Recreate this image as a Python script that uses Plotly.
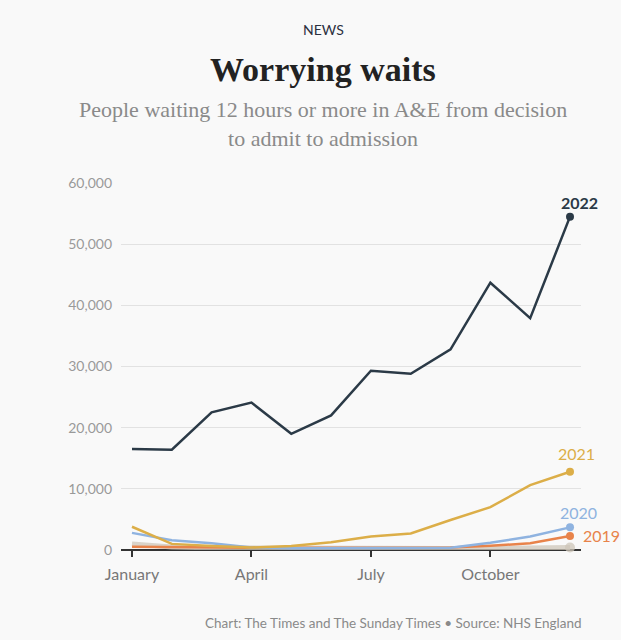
import plotly.graph_objects as go

# months (index positions on the x axis)
months = ["January", "February", "March", "April", "May", "June",
          "July", "August", "September", "October", "November", "December"]
tick_months = ["January", "April", "July", "October"]

# people waiting 12+ hours, decision to admit to admission
y2018 = [1000, 500, 350, 300, 250, 250, 250, 250, 250, 250, 300, 400]
y2019 = [550, 450, 400, 350, 350, 350, 350, 350, 400, 700, 1100, 2300]
y2020 = [2800, 1600, 1100, 400, 300, 300, 300, 300, 350, 1200, 2200, 3700]
y2021 = [3800, 1000, 650, 400, 650, 1250, 2200, 2700, 4900, 7000, 10600, 12800]
y2022 = [16500, 16400, 22500, 24100, 19000, 22000, 29300, 28800, 32800, 43700, 37900, 54500]

series = [
    ("2018", y2018, "rgba(205,198,184,0.75)", 5),
    ("2019", y2019, "#e8834a", 2.5),
    ("2020", y2020, "#8fb3e0", 2.5),
    ("2021", y2021, "#dcae48", 2.5),
    ("2022", y2022, "#2b3a47", 2.5),
]

x = list(range(len(months)))

fig = go.Figure()
for name, vals, color, width in series:
    fig.add_trace(go.Scatter(
        x=x, y=vals, mode="lines", name=name,
        line=dict(color=color, width=width),
        hoverinfo="skip",
    ))
    # end dot
    fig.add_trace(go.Scatter(
        x=[x[-1]], y=[vals[-1]], mode="markers",
        marker=dict(color=color, size=10 if name == "2018" else 8),
        cliponaxis=False, hoverinfo="skip",
    ))

# year labels next to the last points
label_pos = {
    "2022": dict(xshift=9, yshift=14, xanchor="center"),
    "2021": dict(xshift=6, yshift=18, xanchor="center"),
    "2020": dict(xshift=8, yshift=15, xanchor="center"),
    "2019": dict(xshift=11, yshift=0, xanchor="left"),
}
for name, vals, color, width in series:
    if name not in label_pos:
        continue
    p = label_pos[name]
    fig.add_annotation(
        x=x[-1], y=vals[-1], xref="x", yref="y", text=name,
        showarrow=False, xanchor=p["xanchor"], yanchor="middle",
        xshift=p["xshift"], yshift=p["yshift"],
        font=dict(family="Lato", size=16, color=color,
                  weight="bold" if name == "2022" else "normal"),
    )

# headline texts (centred on the page, not on the plot area)
cx = 0.44
fig.add_annotation(text="NEWS", x=cx, y=1.417, xref="paper", yref="paper",
                   showarrow=False, yanchor="middle",
                   font=dict(family="Lato", size=14, color="#2b3040"))
fig.add_annotation(text="<b>Worrying waits</b>", x=cx, y=1.308, xref="paper", yref="paper",
                   showarrow=False, yanchor="middle",
                   font=dict(family="Liberation Serif", size=34, color="#222222"))
fig.add_annotation(text="People waiting 12 hours or more in A&E from decision<br>to admit to admission",
                   x=cx, y=1.161, xref="paper", yref="paper", showarrow=False,
                   yanchor="middle",
                   font=dict(family="Liberation Serif", size=22, color="#8a8a8a"))
fig.add_annotation(text="Chart: The Times and The Sunday Times • Source: NHS England",
                   x=1.0065, y=-0.199, xref="paper", yref="paper", showarrow=False,
                   xanchor="right", yanchor="middle",
                   font=dict(family="Lato", size=13.5, color="#8a8a8a"))

fig.update_layout(
    width=621, height=640,
    margin=dict(l=121, r=40, t=183, b=90),
    paper_bgcolor="#f9f9f9", plot_bgcolor="#f9f9f9",
    showlegend=False,
    xaxis=dict(
        range=[-0.276, 11.276],
        tickvals=[months.index(m) for m in tick_months], ticktext=tick_months,
        ticks="outside", ticklen=6, tickwidth=2, tickcolor="#333333",
        showgrid=False, zeroline=False, showline=False,
        ticklabelstandoff=4,
        tickfont=dict(family="Lato", size=16, color="#777777"),
        fixedrange=True,
    ),
    yaxis=dict(
        range=[0, 60000], tickvals=[0, 10000, 20000, 30000, 40000, 50000, 60000],
        tickformat=",d", showgrid=True, gridcolor="#e2e2e2", gridwidth=1,
        zeroline=True, zerolinecolor="#333333", zerolinewidth=1.5,
        showline=False, ticks="", ticklabelstandoff=8,
        tickfont=dict(family="Lato", size=14, color="#999999"),
        fixedrange=True,
    ),
)

fig.write_html("out.html", config={"displayModeBar": False},
               post_script="document.body.style.margin='0';")
